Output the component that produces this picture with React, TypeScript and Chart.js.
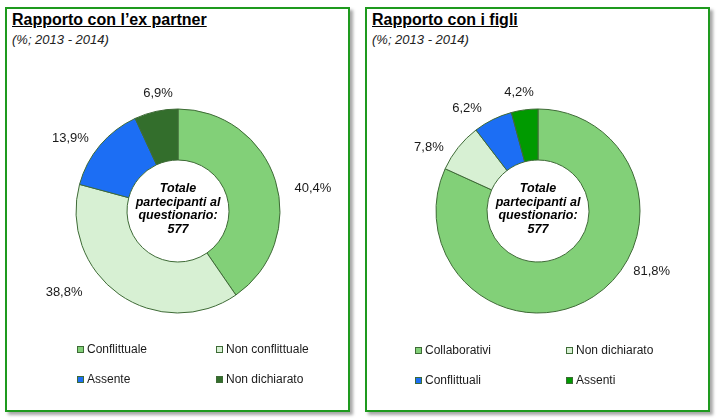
import React, { useEffect, useRef } from "react";
import { Chart, registerables } from "chart.js";

Chart.register(...registerables);

// ---------- data ----------
const leftTitle = "Rapporto con l’ex partner";
const rightTitle = "Rapporto con i figli";
const subtitleText = "(%; 2013 - 2014)";
const centerLines = ["Totale", "partecipanti al", "questionario:", "577"];

const leftCategories = ["Conflittuale", "Non conflittuale", "Assente", "Non dichiarato"];
const leftValues = [40.4, 38.8, 13.9, 6.9];

const rightCategories = ["Collaborativi", "Non dichiarato", "Conflittuali", "Assenti"];
const rightValues = [81.8, 7.8, 6.2, 4.2];

// ---------- styles ----------
const leftColors = ["#82D078", "#D7F0D3", "#1C6EF4", "#336E2C"];
const rightColors = ["#82D078", "#D7F0D3", "#1C6EF4", "#009A00"];
const arcBorder = "#3E6A36";
const FONT = "'Liberation Sans', Arial, sans-serif";

// label placement (angle in degrees, distance as multiple of the outer radius)
const leftLabelPlacement = [
  [-9.3, 1.34],
  [144.6, 1.37],
  [213.9, 1.27],
  [260.4, 1.17],
];
const rightLabelPlacement = [
  [27.8, 1.26],
  [210.4, 1.24],
  [235.2, 1.22],
  [260.9, 1.18],
];

function fmt(v: number) {
  return v.toFixed(1).replace(".", ",") + "%";
}

type PanelProps = {
  left: number;
  title: string;
  categories: string[];
  values: number[];
  colors: string[];
  placement: number[][];
  legendCols: number[];
  legendRows: number[];
};

function Panel(p: PanelProps) {
  const ref = useRef<HTMLCanvasElement | null>(null);

  useEffect(() => {
    if (!ref.current) return;
    const labelPlugin = {
      id: "outLabels",
      afterDatasetsDraw(chart: any) {
        const ctx = chart.ctx;
        const meta = chart.getDatasetMeta(0);
        ctx.save();
        ctx.font = `13px ${FONT}`;
        ctx.fillStyle = "#1a1a1a";
        ctx.textAlign = "center";
        ctx.textBaseline = "middle";
        meta.data.forEach((arc: any, i: number) => {
          const { x, y, outerRadius } = arc.getProps(["x", "y", "outerRadius"], true);
          const [deg, k] = p.placement[i];
          const a = (deg * Math.PI) / 180;
          ctx.fillText(fmt(p.values[i]), x + Math.cos(a) * outerRadius * k, y + Math.sin(a) * outerRadius * k);
        });
        // center text
        const first = meta.data[0];
        if (first) {
          const { x, y } = first.getProps(["x", "y"], true);
          ctx.font = `italic bold 12.5px ${FONT}`;
          ctx.fillStyle = "#000";
          const lh = 13.7;
          const startY = y - 2 - (lh * (centerLines.length - 1)) / 2;
          centerLines.forEach((t, j) => ctx.fillText(t, x, startY + j * lh));
        }
        ctx.restore();
      },
    };
    const chart = new Chart(ref.current, {
      type: "doughnut",
      data: {
        labels: p.categories,
        datasets: [
          {
            data: p.values,
            backgroundColor: p.colors,
            borderColor: arcBorder,
            borderWidth: 1,
          },
        ],
      },
      options: {
        animation: false,
        responsive: false,
        radius: 102,
        cutout: "50%",
        plugins: {
          legend: { display: false },
          tooltip: { enabled: false },
        },
        layout: { padding: 0 },
      },
      plugins: [labelPlugin],
    });
    return () => chart.destroy();
  }, []);

  const cx = p.left + 173;
  return (
    <>
      <div
        style={{
          position: "absolute",
          left: p.left,
          top: 7,
          width: 345,
          height: 405,
          boxSizing: "border-box",
          border: "2px solid #1E9A1E",
          boxShadow: "3px 3px 3px rgba(0,0,0,0.35)",
          background: "#fff",
        }}
      />
      <div
        style={{
          position: "absolute",
          left: p.left + 7,
          top: 11,
          font: `bold 16px ${FONT}`,
          lineHeight: "18px",
          textDecoration: "underline",
          color: "#000",
          whiteSpace: "nowrap",
        }}
      >
        {p.title}
      </div>
      <div
        style={{
          position: "absolute",
          left: p.left + 7,
          top: 32,
          font: `italic 13px ${FONT}`,
          lineHeight: "15px",
          color: "#222",
          whiteSpace: "nowrap",
        }}
      >
        {subtitleText}
      </div>
      <canvas
        ref={ref}
        width={342}
        height={270}
        style={{ position: "absolute", left: cx - 171, top: 76, width: 342, height: 270 }}
      />
      {p.categories.map((c, i) => (
        <div
          key={c}
          style={{
            position: "absolute",
            left: p.legendCols[i % 2],
            top: p.legendRows[Math.floor(i / 2)] - 7,
            height: 14,
            display: "flex",
            alignItems: "center",
            font: `12px ${FONT}`,
            color: "#1a1a1a",
            whiteSpace: "nowrap",
          }}
        >
          <span
            style={{
              display: "inline-block",
              width: 5,
              height: 5,
              border: `1px solid ${arcBorder}`,
              background: p.colors[i],
              marginRight: 3,
            }}
          />
          {c}
        </div>
      ))}
    </>
  );
}

export default function App() {
  return (
    <div style={{ position: "fixed", left: 0, top: 0, width: 720, height: 418, background: "#fff", overflow: "hidden" }}>
      <Panel
        left={5}
        title={leftTitle}
        categories={leftCategories}
        values={leftValues}
        colors={leftColors}
        placement={leftLabelPlacement}
        legendCols={[77, 216]}
        legendRows={[349, 379]}
      />
      <Panel
        left={365}
        title={rightTitle}
        categories={rightCategories}
        values={rightValues}
        colors={rightColors}
        placement={rightLabelPlacement}
        legendCols={[415, 566]}
        legendRows={[350, 380]}
      />
    </div>
  );
}
